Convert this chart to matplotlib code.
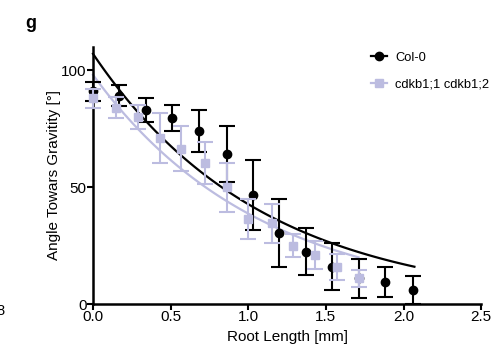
import numpy as np
import matplotlib
matplotlib.use("Agg")
import matplotlib.pyplot as plt
from matplotlib.lines import Line2D

plt.rcParams['font.family'] = ['Liberation Sans', 'DejaVu Sans']

# Col-0 (black circles)
col_x = [0.0, 0.17, 0.34, 0.51, 0.68, 0.86, 1.03, 1.20, 1.37, 1.54, 1.71, 1.88, 2.06]
col_y = [91, 89, 83, 79.5, 74, 64, 46.5, 30.5, 22.5, 16, 11, 9.5, 6]
col_err = [4, 4.5, 5, 5.5, 9, 12, 15, 14.5, 10, 10, 8.5, 6.5, 6]

# cdkb1;1 cdkb1;2 (lavender squares)
mut_x = [0.0, 0.15, 0.29, 0.43, 0.57, 0.72, 0.86, 1.00, 1.15, 1.29, 1.43, 1.57, 1.71]
mut_y = [88, 84, 80, 71, 66.5, 60.5, 50, 36.5, 34.5, 25, 21, 16, 11]
mut_err = [4, 4.5, 5, 10.5, 9.5, 9, 10.5, 8.5, 8.5, 5, 6, 5.5, 3.5]

# one-phase decay fits: y = a * exp(-k * x)
col_fit = (107, 0.918, 2.07)
mut_fit = (98, 0.929, 1.71)

black = 'black'
lav = '#bcbce0'

fig = plt.figure(figsize=(4.92, 3.57), dpi=100)
ax = fig.add_axes([0.189, 0.148, 0.789, 0.721])

for (a, k, xmax), c in [(col_fit, black), (mut_fit, lav)]:
    xs = np.linspace(0, xmax, 100)
    ax.plot(xs, a * np.exp(-k * xs), color=c, lw=1.6, clip_on=False, zorder=2)

ax.errorbar(col_x, col_y, yerr=col_err, fmt='o', color=black, ms=6,
            elinewidth=1.5, capsize=5.5, capthick=1.5, clip_on=False, zorder=3)
ax.errorbar(mut_x, mut_y, yerr=mut_err, fmt='s', color=lav, ms=6,
            elinewidth=1.5, capsize=5.5, capthick=1.5, clip_on=False, zorder=4)

ax.set_xlim(0, 2.5)
ax.set_ylim(0, 110)
ax.set_xticks([0, 0.5, 1.0, 1.5, 2.0, 2.5])
ax.set_xticklabels(['0.0', '0.5', '1.0', '1.5', '2.0', '2.5'])
ax.set_yticks([0, 50, 100])
for s in ['top', 'right']:
    ax.spines[s].set_visible(False)
for s in ['left', 'bottom']:
    ax.spines[s].set_linewidth(1.8)
ax.tick_params(width=1.5, length=4, labelsize=11, pad=0.5)
ax.set_xlabel('Root Length [mm]', fontsize=11, labelpad=4)
ax.set_ylabel('Angle Towars Gravitity [°]', fontsize=11, labelpad=0)

handles = [
    Line2D([], [], color=black, marker='o', ms=6, lw=1.6),
    Line2D([], [], color=lav, marker='s', ms=6, lw=1.6),
]
ax.legend(handles, ['Col-0', 'cdkb1;1 cdkb1;2'], loc='upper left',
          bbox_to_anchor=(0.685, 1.025), frameon=False, fontsize=9.3,
          handlelength=1.3, handletextpad=0.6, labelspacing=1.15)

fig.text(0.051, 0.922, 'g', fontsize=13, fontweight='bold')
# edge of the neighbouring panel
fig.text(-0.008, 0.118, '8', fontsize=10.5)

fig.savefig('out.png', dpi=100)
